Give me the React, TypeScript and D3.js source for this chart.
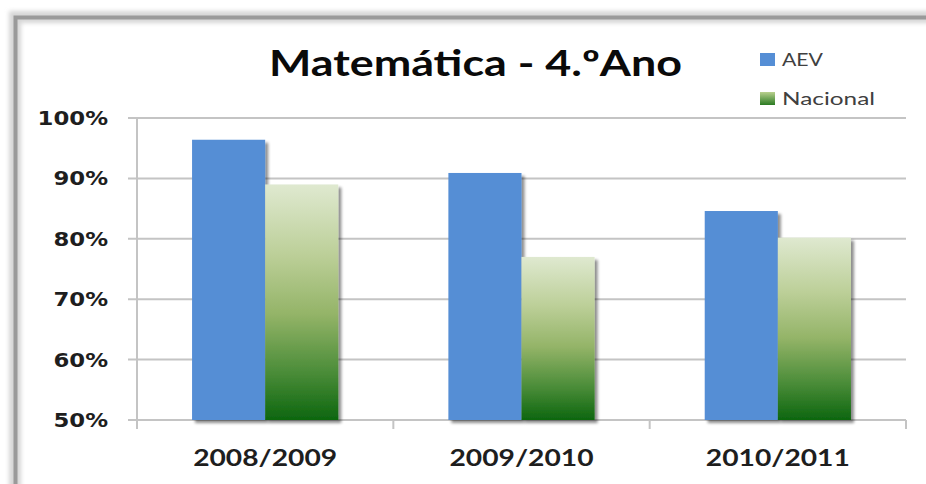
import React from "react";
import * as d3 from "d3";

const categories = ["2008/2009", "2009/2010", "2010/2011"];
const seriesNames = ["AEV", "Nacional"];
const aevValues = [96.4, 90.9, 84.6];
const nacionalValues = [89.0, 77.0, 80.2];
const yTicks = [50, 60, 70, 80, 90, 100];
const title = "Matemática - 4.ºAno";

const W = 926;
const H = 484;

export default function App() {
  const x0 = d3.scaleBand<string>().domain(categories).range([137, 906]).paddingInner(0).paddingOuter(0);
  const x1 = d3.scaleBand<string>().domain(seriesNames).range([0, x0.bandwidth()]).paddingInner(0).paddingOuter(0.753);
  const y = d3.scaleLinear().domain([50, 100]).range([420, 118]);
  const values: Record<string, number[]> = { AEV: aevValues, Nacional: nacionalValues };
  const fills: Record<string, string> = { AEV: "#558ed5", Nacional: "url(#greenGrad)" };
  const boundaries = [...categories.map((c) => x0(c)!), x0.range()[1]];
  const gridColor = "#c4c4c4";

  return (
    <svg width={W} height={H} style={{ position: "absolute", left: 0, top: 0, background: "#fff" }}>
      <defs>
        <linearGradient id="greenGrad" x1="0" y1="0" x2="0" y2="1">
          <stop offset="0" stopColor="#dfe9d0" />
          <stop offset="0.3" stopColor="#bccf98" />
          <stop offset="0.55" stopColor="#94b468" />
          <stop offset="0.8" stopColor="#4a8c38" />
          <stop offset="1" stopColor="#0d660f" />
        </linearGradient>
        <linearGradient id="legGreen" x1="0" y1="0" x2="0" y2="1">
          <stop offset="0" stopColor="#b9d08e" />
          <stop offset="1" stopColor="#2a7a22" />
        </linearGradient>
        <filter id="barShadow" x="-20%" y="-20%" width="150%" height="150%">
          <feGaussianBlur in="SourceAlpha" stdDeviation="1.6" />
          <feOffset dx="3" dy="3" result="b" />
          <feComponentTransfer>
            <feFuncA type="linear" slope="0.45" />
          </feComponentTransfer>
          <feMerge>
            <feMergeNode />
            <feMergeNode in="SourceGraphic" />
          </feMerge>
        </filter>
        <filter id="frameBlur" x="-5%" y="-5%" width="110%" height="110%">
          <feGaussianBlur stdDeviation="2" />
        </filter>
        <filter id="soft" x="-5%" y="-5%" width="110%" height="110%">
          <feGaussianBlur stdDeviation="0.6" />
        </filter>
      </defs>

      {/* frame */}
      <path d={`M15,${H + 20} L15,17 L${W + 20},17`} fill="none" stroke="#d6d6d6" strokeWidth={12} filter="url(#frameBlur)" />
      <path d={`M15.5,${H + 20} L15.5,17.5 L${W + 20},17.5`} fill="none" stroke="#9a9a9a" strokeWidth={4} filter="url(#soft)" />

      {/* gridlines */}
      <g filter="url(#soft)">
        {yTicks.map((t) => (
          <line key={t} x1={128} x2={906} y1={y(t)} y2={y(t)} stroke={gridColor} strokeWidth={2} />
        ))}
        <line x1={137} x2={137} y1={y(100)} y2={429} stroke={gridColor} strokeWidth={2} />
        {boundaries.slice(1).map((b, i) => (
          <line key={i} x1={b} x2={b} y1={y(50)} y2={429} stroke={gridColor} strokeWidth={2} />
        ))}
      </g>

      {/* bars */}
      {categories.map((c, ci) => (
        <g key={c}>
          {seriesNames.map((s) => (
            <rect
              key={s}
              x={x0(c)! + x1(s)!}
              y={y(values[s][ci])}
              width={x1.bandwidth()}
              height={y(50) - y(values[s][ci])}
              fill={fills[s]}
              filter="url(#barShadow)"
            />
          ))}
        </g>
      ))}

      {/* y labels */}
      <g fontFamily="DejaVu Sans" fontWeight="bold" fontSize={19} fill="#1e1e1e">
        {yTicks.map((t) => (
          <text key={t} transform={`translate(108,${y(t) + 7}) scale(1.2,1)`} textAnchor="end">
            {`${t}%`}
          </text>
        ))}
      </g>

      {/* x labels */}
      <g fontFamily="Lato" fontWeight="bold" fontSize={22} fill="#1e1e1e">
        {categories.map((c) => (
          <text key={c} x={x0(c)! + x0.bandwidth() / 2} y={466} textAnchor="middle" textLength={144} lengthAdjust="spacingAndGlyphs">
            {c}
          </text>
        ))}
      </g>

      {/* title */}
      <text x={475.5} y={76} textAnchor="middle" fontFamily="Lato" fontWeight="bold" fontSize={36} fill="#0a0a0a" textLength={413} lengthAdjust="spacingAndGlyphs">
        {title}
      </text>

      {/* legend */}
      <g fontFamily="Lato" fontSize={18} fill="#404040">
        <rect x={760} y={53} width={15} height={13} fill="#558ed5" />
        <text x={782} y={66} textLength={41} lengthAdjust="spacingAndGlyphs">{seriesNames[0]}</text>
        <rect x={760} y={92} width={15} height={13} fill="url(#legGreen)" />
        <text x={782} y={105} textLength={93} lengthAdjust="spacingAndGlyphs">{seriesNames[1]}</text>
      </g>
    </svg>
  );
}
